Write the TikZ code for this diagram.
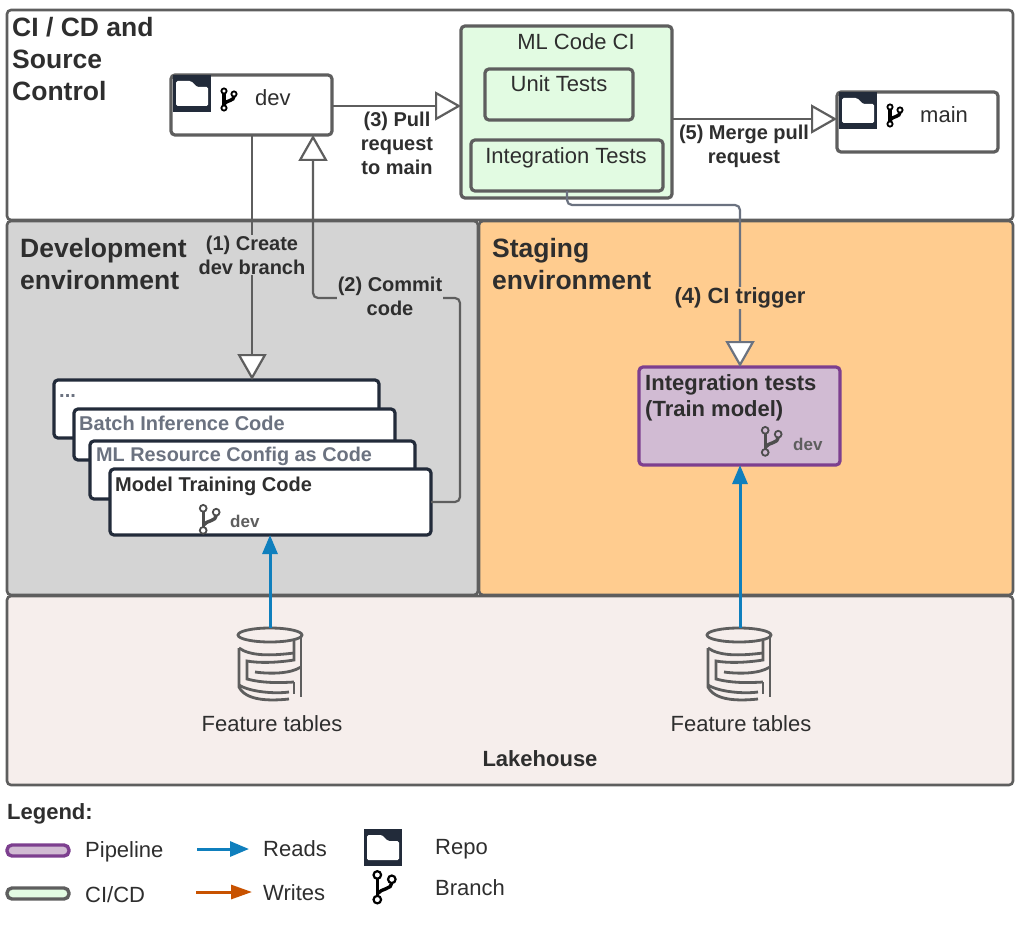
\documentclass[tikz,border=0pt]{standalone}
\usepackage{fontspec}
\setmainfont{Liberation Sans}
\usetikzlibrary{arrows.meta}
\definecolor{linegray}{HTML}{5E5E5E}
\definecolor{arrowgray}{HTML}{6B7280}
\definecolor{navy}{HTML}{222B3A}
\definecolor{devgray}{HTML}{D4D4D4}
\definecolor{stagingorange}{HTML}{FFCC8F}
\definecolor{lakepink}{HTML}{F6EEEC}
\definecolor{cigreen}{HTML}{E2FBE2}
\definecolor{pipefill}{HTML}{D1BBD3}
\definecolor{pipeline}{HTML}{7D3F8F}
\definecolor{readblue}{HTML}{0F7FBD}
\definecolor{writeorange}{HTML}{C85200}
\definecolor{textdark}{HTML}{2E2E2E}
\definecolor{textgray}{HTML}{6B7280}
\tikzset{
  x=1pt,y=-1pt,
  box/.style={draw,rounded corners=4pt,line width=3.2pt,inner sep=0pt,outer sep=0pt,anchor=north west},
  panel/.style={box,draw=linegray,line width=2.6pt},
  codebox/.style={box,draw=navy,fill=white},
  greenbox/.style={box,draw=linegray,fill=cigreen},
  txt/.style={inner sep=0pt,text=textdark,font=\fontsize{22}{30}\selectfont,align=left},
  head/.style={txt,anchor=west,font=\fontsize{26.5}{32}\selectfont\bfseries},
  lbl/.style={txt,align=center,font=\fontsize{20}{24}\selectfont\bfseries},
  code/.style={txt,anchor=west,font=\fontsize{20}{26}\selectfont\bfseries},
  flow/.style={draw=linegray,line width=2.2pt,rounded corners=5pt,
    -{Triangle[open,length=26pt,width=29pt,fill=white]}},
  reads/.style={draw=readblue,line width=3pt,-{Triangle[length=19pt,width=15pt]}},
  writes/.style={draw=writeorange,line width=3pt,-{Triangle[length=21pt,width=14pt]}},
  folderpic/.pic={
    \fill[navy] (0,0) rectangle (38,37);
    \fill[white,rounded corners=1.5pt] (3,6) -- (18,6) -- (24,12) -- (35,12) -- (35,31) -- (3,31) -- cycle;
  },
  branchpic/.pic={
    \draw (-6,-9) circle (2.6);
    \draw (4,-6) circle (2.6);
    \draw (-6,8) circle (2.6);
    \draw[line width=3.4pt] (-6,-6.5) -- (-6,5.5);
    \draw[line width=3.4pt] (4,-3.5) .. controls (4,1) and (-3,0) .. (-6,4);
  },
  tablespic/.pic={
    \draw (0,0) ellipse (32 and 7);
    \draw (31,0) -- (31,62);
    \draw (-31,13) .. controls (-20,21) and (0,21) .. (24,18);
    \draw (24,6) -- (24,25) .. controls (5,28) and (-12,28) .. (-23,26) -- (-23,44) .. controls (-8,48) and (8,48) .. (24,47);
    \draw (24,47) -- (24,59);
    \draw (-15,37) .. controls (0,39) and (20,39) .. (31,32);
    \draw (-31,13) -- (-31,52) .. controls (-24,66) and (0,66) .. (19,64);
    \draw (-31,50) .. controls (-20,57) and (5,59) .. (19,57);
  },
}
\begin{document}
\begin{tikzpicture}
  \useasboundingbox (0,0) rectangle (1022,928);
  \fill[white] (0,0) rectangle (1022,928);

  \node[panel,fill=white,minimum width=1006pt,minimum height=210pt] (cicd) at (7,10) {};
  \node[panel,fill=devgray,minimum width=471pt,minimum height=374pt] (devenv) at (7,221) {};
  \node[panel,fill=stagingorange,minimum width=534pt,minimum height=374pt] (stagingenv) at (479,221) {};
  \node[panel,fill=lakepink,minimum width=1006pt,minimum height=189pt] (lakehouse) at (7,596) {};

  \node[head] (cicdtitle) at (12,59) {CI / CD and\\Source\\Control};
  \node[head] (devtitle) at (20,264) {Development\\environment};
  \node[head] (stagingtitle) at (492,264) {Staging\\environment};

  \node[box,draw=linegray,fill=white,minimum width=161pt,minimum height=60pt] (devbox) at (171,75) {};
  \pic at (173,75) {folderpic};
  \pic[black,line width=1.8pt] at (230,100) {branchpic};
  \node[txt,anchor=west] (devname) at (255,98) {dev};

  \node[box,draw=linegray,fill=white,minimum width=161pt,minimum height=60pt] (mainbox) at (837,92) {};
  \pic at (839,92) {folderpic};
  \pic[black,line width=1.8pt] at (896,116) {branchpic};
  \node[txt,anchor=west] (mainname) at (920,115) {main};

  \node[greenbox,minimum width=211pt,minimum height=172pt] (mlci) at (461,26) {};
  \node[txt] (mlcititle) at (576,42) {ML Code CI};
  \node[greenbox,minimum width=148pt,minimum height=51pt] (unittests) at (485,69) {};
  \node[txt] (unittitle) at (559,84) {Unit Tests};
  \node[greenbox,minimum width=192pt,minimum height=51pt] (inttests) at (471,140) {};
  \node[txt] (inttitle) at (566,158) {Integration Tests};

  \node[codebox,minimum width=325pt,minimum height=58pt] (etcbox) at (54,380) {};
  \node[code,text=textgray] (etctitle) at (59,396) {...};
  \node[codebox,minimum width=321pt,minimum height=51pt] (batchbox) at (74,409) {};
  \node[code,text=textgray] (batchtitle) at (79,423) {Batch Inference Code};
  \node[codebox,minimum width=325pt,minimum height=58pt] (resourcebox) at (90,441) {};
  \node[code,text=textgray,font=\fontsize{19.85}{26}\selectfont\bfseries] (resourcetitle) at (96,456) {ML Resource Config as Code};
  \node[codebox,minimum width=321pt,minimum height=66pt] (modelbox) at (110,469) {};
  \node[code] (modeltitle) at (115,486) {Model Training Code};
  \pic[textdark!85,line width=1.8pt,scale=1.3] at (211,520) {branchpic};
  \node[code,text=linegray,font=\fontsize{17}{20}\selectfont\bfseries] (modeldev) at (230,521) {dev};

  \node[box,draw=pipeline,fill=pipefill,minimum width=201pt,minimum height=98pt] (trainbox) at (639,367) {};
  \node[code,font=\fontsize{22}{26}\selectfont\bfseries] (traintitle) at (645,398) {Integration tests\\(Train model)};
  \pic[textdark!85,line width=1.8pt,scale=1.3] at (773,442) {branchpic};
  \node[code,text=linegray,font=\fontsize{17}{20}\selectfont\bfseries] (traindev) at (793,444) {dev};

  \pic[linegray,line width=2.8pt] at (270,635) {tablespic};
  \pic[linegray,line width=2.8pt] at (739,635) {tablespic};
  \coordinate (devtables) at (270,628);
  \coordinate (stagingtables) at (740,628);
  \node[txt] (devtablesname) at (272,724) {Feature tables};
  \node[txt] (stagingtablesname) at (741,724) {Feature tables};
  \node[txt,font=\fontsize{22}{30}\selectfont\bfseries] (lakename) at (540,759) {Lakehouse};

  \draw[flow] (devbox.east |- 0,106) -- (mlci.west |- 0,106);
  \draw[flow] (mlci.east |- 0,119) -- (mainbox.west |- 0,119);
  \draw[flow] (devbox.south -| 252,0) -- (etcbox.north -| 252,0);
  \draw[flow] (modelbox.east |- 0,502) -- (460,502) -- (460,298) -- (313,298) -- (devbox.south -| 313,0);
  \draw[flow,draw=arrowgray] (inttests.south -| 567,0) -- (567,205) -- (740,205) -- (trainbox.north -| 740,0);
  \draw[reads] (devtables) -- (devtables |- modelbox.south);
  \draw[reads] (stagingtables) -- (stagingtables |- trainbox.south);

  \node[lbl] (pulllabel) at (397,143) {(3) Pull\\request\\to main};
  \node[lbl] (mergelabel) at (744,146) {(5) Merge pull\\request};
  \node[lbl,fill=devgray,inner sep=1pt] (createlabel) at (252,255) {(1) Create\\dev branch};
  \node[lbl,fill=devgray,inner sep=1pt] (commitlabel) at (390,296) {(2) Commit\\code};
  \node[lbl,fill=stagingorange,inner sep=1pt,font=\fontsize{22}{24}\selectfont\bfseries] (triggerlabel) at (740,298) {(4) CI trigger};

  \node[txt,anchor=west,font=\fontsize{22}{30}\selectfont\bfseries] (legend) at (7,814) {Legend:};
  \node[box,draw=pipeline,fill=pipefill,line width=3.4pt,rounded corners=5pt,minimum width=62pt,minimum height=11pt] (pipeswatch) at (7,845) {};
  \node[box,draw=linegray,fill=cigreen,line width=3.4pt,rounded corners=5pt,minimum width=62pt,minimum height=11pt] (ciswatch) at (7,888) {};
  \node[txt,anchor=west] (pipename) at (85,852) {Pipeline};
  \node[txt,anchor=west] (ciname) at (85,895) {CI/CD};
  \coordinate (readsa) at (197,849);
  \coordinate (readsb) at (249,849);
  \coordinate (writesa) at (196,892);
  \coordinate (writesb) at (252,892);
  \draw[reads] (readsa) -- (readsb);
  \draw[writes] (writesa) -- (writesb);
  \node[txt,anchor=west] (readsname) at (263,849) {Reads};
  \node[txt,anchor=west] (writesname) at (263,893) {Writes};
  \pic at (364,829) {folderpic};
  \pic[black,line width=2.2pt,scale=1.45] at (386,888) {branchpic};
  \node[txt,anchor=west] (reponame) at (435,849) {Repo};
  \node[txt,anchor=west] (branchname) at (435,888) {Branch};
\end{tikzpicture}
\end{document}
